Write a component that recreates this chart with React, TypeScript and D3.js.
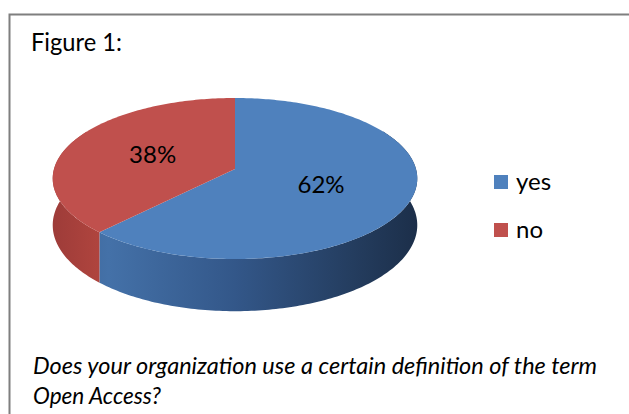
import { useMemo } from 'react';
import * as d3 from 'd3';

// chart data
const categories = ['yes', 'no'];
const values = [62, 38];
const colors = ['#4F81BD', '#C0504D'];
const percentLabels = ['62%', '38%'];

const W = 629;
const H = 414;

// 3D pie geometry (perspective-ish projection of a flat disc)
const cx = 235;
const cy = 169;
const rx = 181;
const ry = 79.4;
const persp = 0.118;
const depth = 46;
const wallStart = (60 * Math.PI) / 180;
const wallEnd = (300 * Math.PI) / 180;

type Pt = [number, number];

function project(theta: number, h: number, r = 1): Pt {
  const u = r * Math.sin(theta);
  const v = -r * Math.cos(theta);
  const s = 1 / (1 - persp * v);
  return [cx + rx * u * s, cy + (ry * v + h) * s];
}

function rim(a0: number, a1: number, h: number): Pt[] {
  const n = Math.max(2, Math.ceil(((a1 - a0) * 180) / Math.PI));
  return d3.range(n + 1).map(i => project(a0 + ((a1 - a0) * i) / n, h));
}

export default function App() {
  const line = d3.line<Pt>();

  const slices = useMemo(() => {
    const arcs = d3.pie<number>().sort(null).value(d => d)(values);
    return arcs.map((a, i) => {
      const top = line([project(0, 0, 0), ...rim(a.startAngle, a.endAngle, 0)]) + 'Z';
      const w0 = Math.max(a.startAngle, wallStart);
      const w1 = Math.min(a.endAngle, wallEnd);
      let wall: string | null = null;
      if (w1 > w0) {
        wall = line([...rim(w0, w1, 0), ...rim(w0, w1, depth).reverse()]) + 'Z';
      }
      const mid = (a.startAngle + a.endAngle) / 2;
      const lp = project(mid, 0, 0.5);
      return { i, top, wall, lp };
    });
  }, []);

  const font = 'Lato, "Open Sans", sans-serif';

  return (
    <div style={{ position: 'fixed', left: 0, top: 0 }}>
      <svg width={W} height={H} style={{ display: 'block', background: '#fff' }}>
        <defs>
          <linearGradient id="sideBlue" gradientUnits="userSpaceOnUse" x1={cx - rx} x2={cx + rx} y1={0} y2={0}>
            <stop offset="0" stopColor="#3b6496" />
            <stop offset="0.15" stopColor="#4471a8" />
            <stop offset="0.5" stopColor="#335789" />
            <stop offset="0.85" stopColor="#233b5c" />
            <stop offset="1" stopColor="#1c2f4a" />
          </linearGradient>
          <linearGradient id="sideRed" gradientUnits="userSpaceOnUse" x1={cx - rx} x2={cx + rx} y1={0} y2={0}>
            <stop offset="0" stopColor="#9e3c39" />
            <stop offset="0.15" stopColor="#b3463f" />
            <stop offset="0.5" stopColor="#8a3431" />
            <stop offset="1" stopColor="#4d1d1c" />
          </linearGradient>
        </defs>

        <rect x={9.5} y={14.5} width={640} height={420} fill="#fff" stroke="#7f7f7f" strokeWidth={2} />

        <text x={31} y={51} fontFamily={font} fontSize={25} fill="#000" textLength={91} lengthAdjust="spacingAndGlyphs">
          Figure 1:
        </text>

        {slices.map(s =>
          s.wall ? (
            <path key={'w' + s.i} d={s.wall} fill={s.i === 0 ? 'url(#sideBlue)' : 'url(#sideRed)'} />
          ) : null
        )}
        {slices.map(s => (
          <path key={'t' + s.i} d={s.top} fill={colors[s.i]} />
        ))}
        {slices.map(s => (
          <text
            key={'l' + s.i}
            x={s.lp[0]}
            y={s.lp[1]}
            dy="0.36em"
            textAnchor="middle"
            fontFamily={font}
            fontSize={24}
            fill="#000"
          >
            {percentLabels[s.i]}
          </text>
        ))}

        {categories.map((c, i) => (
          <g key={c} transform={`translate(494,${175 + i * 48})`}>
            <rect width={14} height={14} fill={colors[i]} />
            <text x={22} y={15} fontFamily={font} fontSize={24} fill="#000">
              {c}
            </text>
          </g>
        ))}

        <text x={33} y={374} fontFamily={font} fontSize={23} fontStyle="italic" fill="#000" textLength={564} lengthAdjust="spacingAndGlyphs">
          Does your organization use a certain definition of the term
        </text>
        <text x={33} y={404} fontFamily={font} fontSize={23} fontStyle="italic" fill="#000" textLength={128} lengthAdjust="spacingAndGlyphs">
          Open Access?
        </text>
      </svg>
    </div>
  );
}
